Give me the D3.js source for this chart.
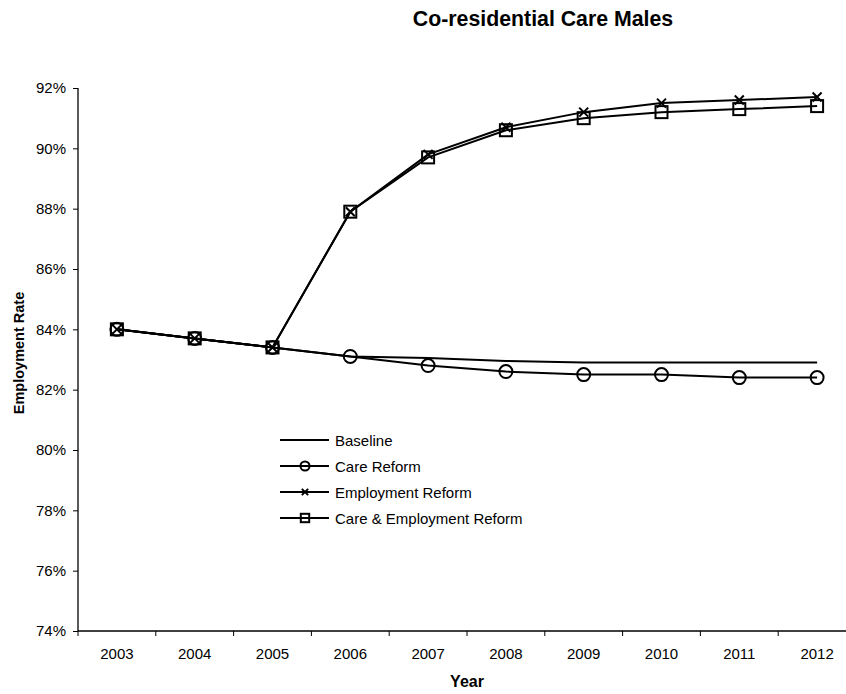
<!DOCTYPE html>
<html><head><meta charset="utf-8">
<script src="https://cdn.jsdelivr.net/npm/d3@7"></script>
<style>body{margin:0;background:#fff}svg{display:block;font-family:"Liberation Sans",Arial,sans-serif}</style>
</head><body>
<svg id="c" width="846" height="694"></svg>
<script>
const years = ["2003","2004","2005","2006","2007","2008","2009","2010","2011","2012"];
const baseline = [84.0,83.7,83.4,83.1,83.05,82.95,82.9,82.9,82.9,82.9];
const careReform = [84.0,83.7,83.4,83.1,82.8,82.6,82.5,82.5,82.4,82.4];
const employmentReform = [84.0,83.7,83.4,87.9,89.8,90.7,91.2,91.5,91.6,91.7];
const careEmploymentReform = [84.0,83.7,83.4,87.9,89.7,90.6,91.0,91.2,91.3,91.4];
const yTicks = [74,76,78,80,82,84,86,88,90,92];
const seriesNames = ["Baseline","Care Reform","Employment Reform","Care & Employment Reform"];
const seriesData = [baseline, careReform, employmentReform, careEmploymentReform];
const markers = ["none","circle","x","square"];

const svg = d3.select("#c");
const x = d3.scaleBand().domain(years).range([78, 856]);
const y = d3.scaleLinear().domain([74,92]).range([631, 88]);

svg.append("text").attr("x",543).attr("y",26).attr("text-anchor","middle")
  .attr("font-size",21.3).attr("font-weight","bold").text("Co-residential Care Males");

const gy = svg.append("g").attr("transform","translate(78,0)")
  .call(d3.axisLeft(y).tickValues(yTicks).tickSize(5).tickPadding(7).tickFormat(d=>d+"%"));
const gx = svg.append("g").attr("transform","translate(0,631)")
  .call(d3.axisBottom(x).tickSize(0).tickPadding(17));
gx.selectAll(".bt").data(years.slice(1)).enter().append("line")
  .attr("x1",d=>x(d)).attr("x2",d=>x(d)).attr("y1",0).attr("y2",5).attr("stroke","#000");
svg.append("line").attr("x1",78).attr("x2",78).attr("y1",631).attr("y2",636).attr("stroke","#000");
[gx,gy].forEach(g=>{
  g.select(".domain").attr("stroke","#000").attr("stroke-width",1.3);
  g.selectAll("text").attr("font-size",15).attr("fill","#000").attr("font-family","Liberation Sans, Arial, sans-serif");
  g.selectAll(".tick line").attr("stroke","#000");
});
gx.select(".domain").attr("d","M78,0H856");
gy.select(".domain").attr("d","M0,88V631");

svg.append("text").attr("x",467).attr("y",687).attr("text-anchor","middle")
  .attr("font-size",16).attr("font-weight","bold").text("Year");
svg.append("text").attr("transform","translate(24,353) rotate(-90)").attr("text-anchor","middle")
  .attr("font-size",14.5).attr("font-weight","bold").text("Employment Rate");

const cx = d => x(d) + x.bandwidth()/2;
const line = d3.line().x((d,i)=>cx(years[i])).y(d=>y(d));

function drawMarker(g, type, px, py, k){
  k = k || 1;
  if(type==="circle"){
    g.append("circle").attr("cx",px).attr("cy",py).attr("r",6.5*k).attr("fill","none").attr("stroke","#000").attr("stroke-width",2);
  } else if(type==="x"){
    const s=4.5*k;
    g.append("path").attr("d",`M${px-s},${py-s}L${px+s},${py+s}M${px-s},${py+s}L${px+s},${py-s}`)
      .attr("stroke","#000").attr("stroke-width",2).attr("fill","none");
  } else if(type==="square"){
    const h=6*k;
    g.append("rect").attr("x",px-h).attr("y",py-h).attr("width",2*h).attr("height",2*h)
      .attr("fill","none").attr("stroke","#000").attr("stroke-width",2);
  }
}

seriesData.forEach((data,si)=>{
  const g = svg.append("g");
  g.append("path").datum(data).attr("d",line).attr("fill","none").attr("stroke","#000").attr("stroke-width",2);
  data.forEach((v,i)=>drawMarker(g, markers[si], cx(years[i]), y(v)));
});

const lg = svg.append("g");
seriesNames.forEach((n,i)=>{
  const ly = 440 + i*26;
  lg.append("line").attr("x1",280).attr("x2",329).attr("y1",ly).attr("y2",ly).attr("stroke","#000").attr("stroke-width",2);
  drawMarker(lg, markers[i], 305, ly, 0.7);
  lg.append("text").attr("x",335).attr("y",ly+5.5).attr("font-size",15).text(n);
});
</script>
</body></html>
